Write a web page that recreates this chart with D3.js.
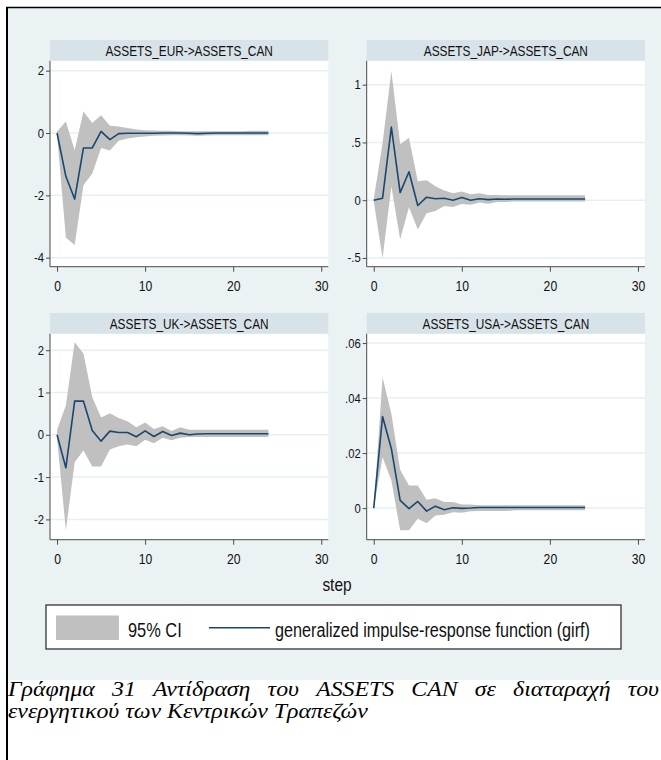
<!DOCTYPE html>
<html>
<head>
<meta charset="utf-8">
<script src="https://cdn.jsdelivr.net/npm/d3@7"></script>
<style>
  body { margin: 0; background: #fff; }
  svg { display: block; }
</style>
</head>
<body>
<svg id="chart" width="661" height="760"></svg>
<script>
// Forecast horizon (steps 0..24)
const steps = d3.range(0, 25);

// ASSETS_EUR -> ASSETS_CAN
const eurIrf = [0, -1.39, -2.12, -0.48, -0.48, 0.05, -0.21, -0.02, -0.01, -0.01, -0.01, -0.01, 0.00, 0.00, 0.00, -0.01, -0.02, -0.01, 0.00, 0.00, 0.00, 0.00, 0.00, 0.00, 0.00];
const eurHi  = [0.05, 0.37, -0.55, 0.69, 0.32, 0.57, 0.23, 0.21, 0.16, 0.11, 0.09, 0.08, 0.07, 0.07, 0.06, 0.06, 0.06, 0.06, 0.06, 0.06, 0.06, 0.06, 0.07, 0.07, 0.07];
const eurLo  = [-0.05, -3.35, -3.59, -1.68, -1.30, -0.48, -0.56, -0.25, -0.18, -0.14, -0.11, -0.09, -0.08, -0.07, -0.07, -0.08, -0.09, -0.08, -0.07, -0.07, -0.07, -0.07, -0.07, -0.07, -0.07];

// ASSETS_JAP -> ASSETS_CAN
const japIrf = [0, 0.017, 0.633, 0.066, 0.246, -0.046, 0.026, 0.012, 0.017, 0.000, 0.023, 0.000, 0.012, 0.005, 0.010, 0.008, 0.010, 0.010, 0.010, 0.010, 0.010, 0.010, 0.010, 0.010, 0.010];
const japHi  = [0.01, 0.494, 1.118, 0.484, 0.540, 0.165, 0.173, 0.121, 0.084, 0.061, 0.075, 0.052, 0.061, 0.046, 0.046, 0.042, 0.042, 0.042, 0.042, 0.042, 0.042, 0.042, 0.042, 0.042, 0.042];
const japLo  = [-0.01, -0.503, 0.118, -0.338, -0.062, -0.254, -0.113, -0.094, -0.050, -0.060, -0.032, -0.040, -0.020, -0.030, -0.015, -0.015, -0.012, -0.012, -0.012, -0.012, -0.012, -0.012, -0.012, -0.012, -0.012];

// ASSETS_UK -> ASSETS_CAN
const ukIrf = [0, -0.78, 0.795, 0.795, 0.10, -0.15, 0.087, 0.055, 0.055, -0.047, 0.094, -0.040, 0.079, -0.016, 0.040, 0.000, 0.020, 0.024, 0.024, 0.024, 0.024, 0.024, 0.024, 0.024, 0.024];
const ukHi  = [0.12, 0.69, 2.19, 1.92, 0.89, 0.41, 0.51, 0.40, 0.32, 0.18, 0.29, 0.14, 0.20, 0.09, 0.18, 0.12, 0.12, 0.12, 0.12, 0.12, 0.12, 0.12, 0.12, 0.12, 0.12];
const ukLo  = [-0.08, -2.26, -0.65, -0.37, -0.75, -0.75, -0.35, -0.27, -0.23, -0.27, -0.12, -0.20, -0.07, -0.13, -0.07, -0.055, -0.055, -0.055, -0.055, -0.055, -0.055, -0.055, -0.055, -0.055, -0.055];

// ASSETS_USA -> ASSETS_CAN
const usaIrf = [0, 0.0333, 0.0216, 0.0028, -0.0002, 0.0024, -0.0011, 0.0007, -0.0006, 0.0001, -0.0001, 0.0000, 0.0002, 0.0002, 0.0002, 0.0002, 0.0002, 0.0002, 0.0002, 0.0002, 0.0002, 0.0002, 0.0002, 0.0002, 0.0002];
const usaHi  = [0, 0.0476, 0.0343, 0.0139, 0.0082, 0.0082, 0.0030, 0.0036, 0.0022, 0.0022, 0.0013, 0.0013, 0.0010, 0.0010, 0.0010, 0.0010, 0.0010, 0.0010, 0.0010, 0.0010, 0.0010, 0.0010, 0.0010, 0.0010, 0.0010];
const usaLo  = [0, 0.0185, 0.0100, -0.0081, -0.0081, -0.0039, -0.0055, -0.0027, -0.0024, -0.0015, -0.0017, -0.0012, -0.0011, -0.0011, -0.0011, -0.0011, -0.0008, -0.0008, -0.0008, -0.0008, -0.0008, -0.0008, -0.0008, -0.0008, -0.0008];

// Axis ticks and their printed labels
const xTicks = [0, 10, 20, 30];
const xLabels = ["0", "10", "20", "30"];
const eurTicks = [-4, -2, 0, 2];        const eurLabels = ["-4", "-2", "0", "2"];
const japTicks = [-0.5, 0, 0.5, 1];     const japLabels = ["-.5", "0", ".5", "1"];
const ukTicks  = [-2, -1, 0, 1, 2];     const ukLabels  = ["-2", "-1", "0", "1", "2"];
const usaTicks = [0, 0.02, 0.04, 0.06]; const usaLabels = ["0", ".02", ".04", ".06"];

// Panel titles, legend and caption text
const panelTitles = ["ASSETS_EUR->ASSETS_CAN", "ASSETS_JAP->ASSETS_CAN", "ASSETS_UK->ASSETS_CAN", "ASSETS_USA->ASSETS_CAN"];
const xTitle = "step";
const legendLabels = ["95% CI", "generalized impulse-response function (girf)"];
const captionLine1 = "Γράφημα 31 Αντίδραση του ASSETS CAN σε διαταραχή του";
const captionLine2 = "ενεργητικού των Κεντρικών Τραπεζών";

// ---------------------------------------------------------------------------
const SANS = "'Liberation Sans', Arial, sans-serif";
const SERIF = "'Liberation Serif', 'Times New Roman', serif";
const BG = "#EAF2F3", STRIP = "#D8E3E9", GRID = "#E6EFF1";
const CI = "#C0C0C0", LINE = "#1A476F", AXIS = "#4a4a4a";

const svg = d3.select("#chart");

// Condense a text element horizontally about its own anchor point
function squeeze(sel, k) {
  sel.each(function () {
    const t = d3.select(this);
    const x = +t.attr("x") || 0, y = +t.attr("y") || 0;
    t.attr("x", 0).attr("y", 0).attr("transform", `translate(${x},${y}) scale(${k},1)`);
  });
}

// Graph region background and frame
svg.append("rect").attr("x", 7).attr("y", 8).attr("width", 654).attr("height", 672).attr("fill", BG);
svg.append("line").attr("x1", 6).attr("x2", 661).attr("y1", 7.5).attr("y2", 7.5)
  .attr("stroke", "#000").attr("stroke-width", 1.3);
svg.append("line").attr("x1", 7).attr("x2", 7).attr("y1", 7).attr("y2", 760)
  .attr("stroke", "#000").attr("stroke-width", 2);

const panels = [
  { title: panelTitles[0], irf: eurIrf, lo: eurLo, hi: eurHi, yDomain: [-4.29, 2.32], ticks: eurTicks, labels: eurLabels, col: 0, row: 0 },
  { title: panelTitles[1], irf: japIrf, lo: japLo, hi: japHi, yDomain: [-0.576, 1.208], ticks: japTicks, labels: japLabels, col: 1, row: 0 },
  { title: panelTitles[2], irf: ukIrf, lo: ukLo, hi: ukHi, yDomain: [-2.48, 2.39], ticks: ukTicks, labels: ukLabels, col: 0, row: 1 },
  { title: panelTitles[3], irf: usaIrf, lo: usaLo, hi: usaHi, yDomain: [-0.0115, 0.0634], ticks: usaTicks, labels: usaLabels, col: 1, row: 1 }
];

const colX = [50, 366.7], rowY = [40, 313], stripH = 20.7, plotW = 278.3, plotH = 206;

panels.forEach(p => {
  const left = colX[p.col], top = rowY[p.row] + stripH;
  const g = svg.append("g").attr("transform", `translate(${left},${top})`);

  const x = d3.scaleLinear().domain([-0.8, 30.8]).range([0, plotW]);
  const y = d3.scaleLinear().domain(p.yDomain).range([plotH, 0]);

  // title strip
  svg.append("rect").attr("x", left).attr("y", rowY[p.row]).attr("width", plotW).attr("height", stripH).attr("fill", STRIP);
  svg.append("text").attr("x", left + plotW / 2).attr("y", rowY[p.row] + 16.3)
    .attr("text-anchor", "middle").attr("font-family", SANS).attr("font-size", 15).attr("fill", "#111")
    .text(p.title).call(squeeze, 0.79);

  // plot region
  g.append("rect").attr("width", plotW).attr("height", plotH).attr("fill", "#fff");
  g.selectAll("line.grid").data(p.ticks).join("line").attr("class", "grid")
    .attr("x1", 0).attr("x2", plotW).attr("y1", d => y(d)).attr("y2", d => y(d))
    .attr("stroke", GRID).attr("stroke-width", 1.5);

  const rows = steps.map((s, i) => ({ s, irf: p.irf[i], lo: p.lo[i], hi: p.hi[i] }));

  g.append("path").datum(rows).attr("fill", CI)
    .attr("d", d3.area().x(d => x(d.s)).y0(d => y(d.lo)).y1(d => y(d.hi)));
  g.append("path").datum(rows).attr("fill", "none").attr("stroke", LINE).attr("stroke-width", 1.6)
    .attr("stroke-linejoin", "round")
    .attr("d", d3.line().x(d => x(d.s)).y(d => y(d.irf)));

  // axes
  const yAxis = g.append("g").call(d3.axisLeft(y).tickValues(p.ticks)
    .tickFormat((d, i) => p.labels[i]).tickSize(4).tickSizeOuter(0).tickPadding(2));
  const xAxis = g.append("g").attr("transform", `translate(0,${plotH})`)
    .call(d3.axisBottom(x).tickValues(xTicks).tickFormat((d, i) => xLabels[i])
      .tickSize(5).tickSizeOuter(0).tickPadding(9));

  [yAxis, xAxis].forEach(a => {
    a.select(".domain").attr("stroke", AXIS).attr("stroke-width", 1);
    a.selectAll(".tick line").attr("stroke", AXIS);
    a.selectAll("text").attr("font-family", SANS).attr("fill", "#111");
  });
  yAxis.select(".domain").attr("d", `M0,0V${plotH}`);
  xAxis.select(".domain").attr("d", `M0,0H${plotW}`);
  yAxis.selectAll("text").attr("font-size", 12.5).call(squeeze, 0.9);
  xAxis.selectAll("text").attr("font-size", 14.5).call(squeeze, 0.84);
});

// x-axis title shared by the grid of panels
svg.append("text").attr("x", 337).attr("y", 591).attr("text-anchor", "middle")
  .attr("font-family", SANS).attr("font-size", 18).attr("fill", "#111")
  .text(xTitle).call(squeeze, 0.86);

// legend
const lg = svg.append("g");
lg.append("rect").attr("x", 46).attr("y", 605).attr("width", 575).attr("height", 44)
  .attr("fill", "#fff").attr("stroke", "#333").attr("stroke-width", 1.3);
lg.append("rect").attr("x", 56).attr("y", 615.5).attr("width", 63).attr("height", 24.5).attr("fill", CI);
lg.append("text").attr("x", 128).attr("y", 637).attr("font-family", SANS).attr("font-size", 20).attr("fill", "#111")
  .text(legendLabels[0]).call(squeeze, 0.82);
lg.append("line").attr("x1", 209).attr("x2", 270).attr("y1", 627.7).attr("y2", 627.7)
  .attr("stroke", LINE).attr("stroke-width", 1.6);
lg.append("text").attr("x", 275).attr("y", 637).attr("font-family", SANS).attr("font-size", 20).attr("fill", "#111")
  .text(legendLabels[1]).call(squeeze, 0.81);

// caption beneath the graph: first line justified, second left-aligned
const capLeft = 8, capRight = 659, capLine2Width = 360, capSize = 20;
const cap2 = svg.append("g");
const cap2Text = cap2.append("text").attr("font-family", SERIF).attr("font-style", "italic")
  .attr("font-size", capSize).attr("fill", "#000").text(captionLine2);
const capK = capLine2Width / cap2Text.node().getComputedTextLength();
cap2.attr("transform", `translate(${capLeft},717.5) scale(${capK},1)`);

const cap1 = svg.append("g").attr("transform", `translate(${capLeft},695.5) scale(${capK},1)`);
const words = captionLine1.split(" ");
const wt = cap1.selectAll("text").data(words).join("text")
  .attr("font-family", SERIF).attr("font-style", "italic").attr("font-size", capSize).attr("fill", "#000")
  .text(d => d);
const widths = wt.nodes().map(n => n.getComputedTextLength());
const avail = (capRight - capLeft) / capK;
const gap = (avail - d3.sum(widths)) / (words.length - 1);
let cx = 0;
wt.attr("x", (d, i) => { const v = cx; cx += widths[i] + gap; return v; });
</script>
</body>
</html>
